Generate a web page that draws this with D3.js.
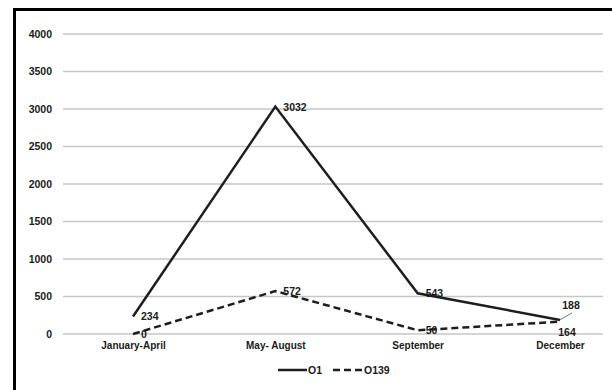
<!DOCTYPE html>
<html><head><meta charset="utf-8">
<script src="https://cdn.jsdelivr.net/npm/d3@7"></script>
<style>body{margin:0;background:#fff}svg{display:block}text{font-family:"Liberation Sans",Arial,sans-serif;font-weight:bold;fill:#1a1a1a}</style>
</head><body><svg id="c" width="612" height="390"></svg>
<script>
const categories = ["January-April", "May- August", "September", "December"];
const seriesNames = ["O1", "O139"];
const o1 = [234, 3032, 543, 188];
const o139 = [0, 572, 50, 164];
const yTicks = [0, 500, 1000, 1500, 2000, 2500, 3000, 3500, 4000];

const svg = d3.select("#c");
const x = d3.scalePoint().domain(categories).range([133, 560]);
const y = d3.scaleLinear().domain([0, 4000]).range([334, 34]);
const gridX0 = 63, gridX1 = 603;

// frame
svg.append("rect").attr("x", 14.5).attr("y", 9.5).attr("width", 640).attr("height", 420)
  .attr("fill", "none").attr("stroke", "#000").attr("stroke-width", 3);

// gridlines
svg.append("g").selectAll("line").data(yTicks).join("line")
  .attr("x1", gridX0).attr("x2", gridX1)
  .attr("y1", d => y(d)).attr("y2", d => y(d))
  .attr("stroke", "#c6c6c6").attr("stroke-width", 1.5);

// y axis labels
const yAxis = d3.axisLeft(y).tickValues(yTicks).tickFormat(d3.format("d")).tickSize(0).tickPadding(0);
const gy = svg.append("g").attr("transform", "translate(52,0)").call(yAxis);
gy.select(".domain").remove();
gy.selectAll("text").attr("font-size", 10.5).attr("fill", "#1a1a1a").attr("font-family", "Liberation Sans").attr("font-weight", "bold");

// x axis labels
const xAxis = d3.axisBottom(x).tickSize(0).tickPadding(0);
const gx = svg.append("g").attr("transform", "translate(0,342)").call(xAxis);
gx.select(".domain").remove();
gx.selectAll("text").attr("font-size", 10).attr("fill", "#1a1a1a").attr("font-family", "Liberation Sans").attr("font-weight", "bold");

const line = d3.line().x((d, i) => x(categories[i])).y(d => y(d));

svg.append("path").datum(o139).attr("d", line).attr("fill", "none")
  .attr("stroke", "#1e1e1e").attr("stroke-width", 2.5).attr("stroke-dasharray", "7,4");
svg.append("path").datum(o1).attr("d", line).attr("fill", "none")
  .attr("stroke", "#1e1e1e").attr("stroke-width", 2.5);

// data labels
const lbl = (txt, px, py, anchor) => svg.append("text").attr("x", px).attr("y", py)
  .attr("text-anchor", anchor).attr("dominant-baseline", "central").attr("font-size", 10.5).text(txt);

o1.forEach((v, i) => {
  const px = x(categories[i]), py = y(v);
  if (i === 3) {
    svg.append("line").attr("x1", px).attr("y1", py).attr("x2", px + 12).attr("y2", py - 7)
      .attr("stroke", "#555").attr("stroke-width", 0.8);
    lbl(v, px + 11, py - 15, "middle");
  } else {
    lbl(v, px + 8, py, "start");
  }
});
o139.forEach((v, i) => {
  const px = x(categories[i]), py = y(v);
  if (i === 3) lbl(v, px + 7, py + 10, "middle");
  else lbl(v, px + 8, py, "start");
});

// legend
const leg = svg.append("g");
leg.append("line").attr("x1", 278).attr("x2", 307).attr("y1", 370).attr("y2", 370)
  .attr("stroke", "#1e1e1e").attr("stroke-width", 2.5);
leg.append("text").attr("x", 308).attr("y", 370).attr("dominant-baseline", "central").attr("font-size", 10.5).text(seriesNames[0]);
leg.append("line").attr("x1", 333).attr("x2", 362).attr("y1", 370).attr("y2", 370)
  .attr("stroke", "#1e1e1e").attr("stroke-width", 2.5).attr("stroke-dasharray", "7,4");
leg.append("text").attr("x", 364).attr("y", 370).attr("dominant-baseline", "central").attr("font-size", 10.5).text(seriesNames[1]);
</script></body></html>
